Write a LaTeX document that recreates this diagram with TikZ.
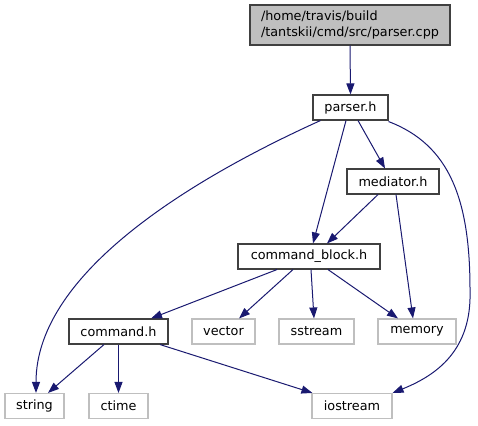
\documentclass[tikz,border=0pt]{standalone}
\usepackage{fontspec}
\setmainfont{DejaVu Sans}
\usetikzlibrary{arrows.meta}
\definecolor{edgeblue}{HTML}{191970}
\definecolor{extgray}{HTML}{BFBFBF}
\definecolor{nodeborder}{HTML}{404040}
\tikzset{
  box/.style={draw=nodeborder, line width=1.1pt, fill=white, inner sep=0pt, minimum height=25pt, font=\fontsize{12.8}{16}\selectfont},
  extbox/.style={draw=extgray, line width=1.1pt, fill=white, inner sep=0pt, minimum height=25pt, font=\fontsize{12.8}{16}\selectfont},
  rootbox/.style={draw=nodeborder, line width=1.1pt, fill=extgray, inner sep=0pt, minimum width=200pt, minimum height=40pt, align=left, font=\fontsize{12.8}{16}\selectfont},
  dep/.style={draw=edgeblue, line width=1pt, -{Triangle[length=11pt,width=8pt]}, color=edgeblue}
}
\begin{document}
\begin{tikzpicture}[x=1pt,y=-1pt]
\useasboundingbox (0,0) rectangle (478,425);
\node[rootbox] (root) at (350,25) {/home/travis/build\\/tantskii/cmd/src/parser.cpp};
\node[box, minimum width=75pt] (parser) at (350.5,107.5) {parser.h};
\node[box, minimum width=92pt] (med) at (393,181.5) {mediator.h};
\node[box, minimum width=142pt] (cb) at (309,256.5) {command\_block.h};
\node[box, minimum width=99pt] (cmd) at (118.5,331.5) {command.h};
\node[extbox, minimum width=63pt] (vector) at (223.5,331.5) {vector};
\node[extbox, minimum width=75pt] (sstream) at (316.5,331.5) {sstream};
\node[extbox, minimum width=78pt] (memory) at (417,331.5) {memory};
\node[extbox, minimum width=59pt] (string) at (34.5,406) {string};
\node[extbox, minimum width=59pt] (ctime) at (118.5,406) {ctime};
\node[extbox, minimum width=80pt] (iostream) at (352,406) {iostream};

\draw[dep] (root.south) -- (parser.north);
\draw[dep] ([xshift=8pt]parser.south west) .. controls (200,175) and (36,270) .. ([xshift=1.5pt]string.north);
\draw[dep] ([xshift=-4.5pt]parser.south) -- ([xshift=4pt]cb.north);
\draw[dep] ([xshift=7.5pt]parser.south) -- ([xshift=-8pt]med.north);
\draw[dep] ([yshift=-1pt]parser.south east) .. controls (450,145) and (470,200) .. (470,290) .. controls (472,350) and (437,375) .. (iostream.north east);
\draw[dep] ([xshift=-15pt]med.south) -- ([xshift=18pt]cb.north);
\draw[dep] ([xshift=3pt]med.south) -- ([xshift=-4pt]memory.north);
\draw[dep] ([xshift=-32pt]cb.south) -- ([xshift=32.5pt]cmd.north);
\draw[dep] ([xshift=-16pt]cb.south) -- ([xshift=15.5pt]vector.north);
\draw[dep] ([xshift=2pt]cb.south) -- ([xshift=-2.5pt]sstream.north);
\draw[dep] ([xshift=19pt]cb.south) -- ([xshift=-19pt]memory.north);
\draw[dep] ([xshift=-14.5pt]cmd.south) -- ([xshift=13.5pt]string.north);
\draw[dep] (cmd.south) -- (ctime.north);
\draw[dep] ([xshift=41.5pt]cmd.south) -- ([xshift=1pt]iostream.north west);
\end{tikzpicture}
\end{document}
